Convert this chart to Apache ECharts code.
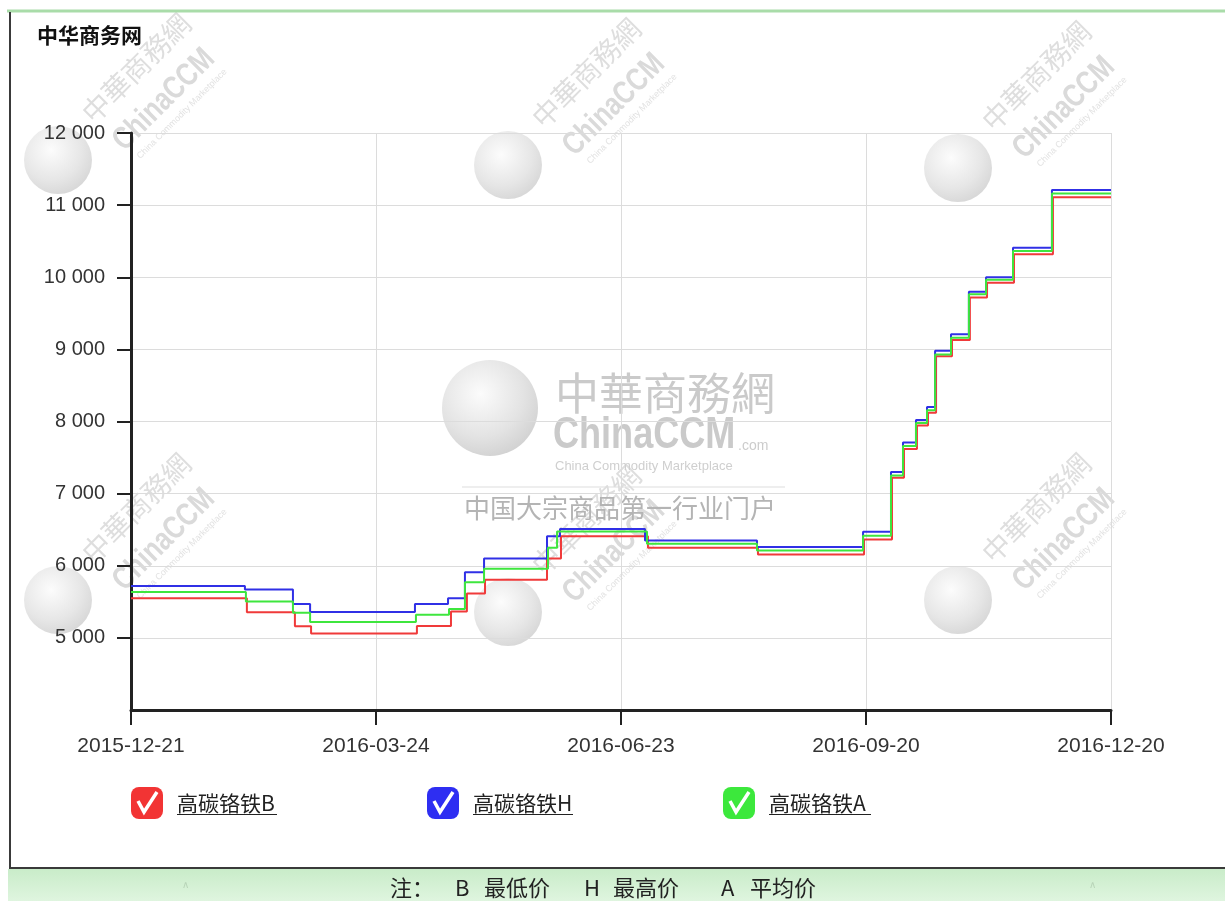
<!DOCTYPE html>
<html><head><meta charset="utf-8">
<script src="https://cdn.jsdelivr.net/npm/echarts@6/dist/echarts.min.js"></script>
<style>html,body{margin:0;padding:0;background:#fff}#c{width:1225px;height:901px}</style>
</head><body><div id="c"></div>
<script>
// ---- data (x in axis units: 0..400, each 100 = one labelled date) ----
const xLabels = ['2015-12-21', '2016-03-24', '2016-06-23', '2016-09-20', '2016-12-20'];
const yTicks = [4000, 5000, 6000, 7000, 8000, 9000, 10000, 11000, 12000];
const seriesNames = ['高碳铬铁B', '高碳铬铁H', '高碳铬铁A'];
const notePieces = ['注：', 'B', '最低价', 'H', '最高价', 'A', '平均价'];

const dataB = [[0,5550],[47.3,5355],[66.9,5160],[73.5,5060],[116.7,5165],[130.6,5365],[137.1,5615],[144.5,5805],
  [169.8,6100],[175.5,6410],[211.0,6250],[255.9,6155],[299.2,6365],[310.6,7220],[315.5,7620],[320.8,7945],
  [325.3,8120],[328.6,8905],[335.1,9130],[342.4,9720],[349.4,9925],[360.4,10320],[376.3,11110],[400,11110]];
const dataH = [[0,5720],[46.5,5670],[66.1,5470],[73.1,5360],[115.9,5470],[129.4,5550],[136.3,5910],[144.1,6100],
  [169.8,6410],[175.1,6510],[209.8,6350],[255.5,6260],[298.8,6470],[310.2,7300],[315.1,7710],[320.4,8020],
  [324.9,8200],[328.2,8980],[334.7,9210],[342.0,9800],[349.0,10000],[360.0,10410],[375.9,11210],[400,11210]];
const dataA = [[0,5635],[46.9,5505],[66.1,5350],[73.1,5220],[116.3,5320],[129.8,5400],[136.3,5770],[144.1,5960],
  [170.2,6250],[173.9,6475],[210.6,6305],[255.5,6210],[298.8,6415],[310.2,7250],[315.1,7660],[320.4,7980],
  [324.9,8155],[328.2,8930],[334.7,9160],[342.0,9765],[349.0,9965],[360.0,10365],[375.9,11160],[400,11160]];

const lineColors = ['#f03a3a', '#3030e6', '#3ee63e'];
const boxColors = ['#f23434', '#2e2ef2', '#3ce83c'];

const chart = echarts.init(document.getElementById('c'));
const FONT = '"Liberation Sans", Arial, sans-serif';
const CJK = '"Noto Sans CJK SC", sans-serif';

function globe(cx, cy, r, op) {
  return { type: 'circle', z: -10, shape: { cx: cx, cy: cy, r: r }, silent: true,
    style: { fill: { type: 'radial', x: 0.4, y: 0.35, r: 0.75,
      colorStops: [{ offset: 0, color: '#fbfbfb' }, { offset: 0.6, color: '#dedede' }, { offset: 1, color: '#c4c4c4' }] },
      opacity: op } };
}
function smallMark(gx, gy) {
  return [
    globe(gx, gy, 34, 0.75),
    { type: 'text', z: -10, silent: true, x: gx + 78, y: gy - 92, rotation: Math.PI / 4,
      style: { text: '中華商務網', fill: '#dedede', font: '28px ' + CJK, align: 'center', verticalAlign: 'middle' } },
    { type: 'text', z: -10, silent: true, x: gx + 106, y: gy - 60, rotation: Math.PI / 4, scaleX: 0.8,
      style: { text: 'ChinaCCM', fill: '#dadada', font: 'bold 32px ' + FONT, align: 'center', verticalAlign: 'middle' } },
    { type: 'text', z: -10, silent: true, x: gx + 124, y: gy - 46, rotation: Math.PI / 4,
      style: { text: 'China Commodity Marketplace', fill: '#e2e2e2', font: '9px ' + FONT, align: 'center', verticalAlign: 'middle' } }
  ];
}

const graphics = [];
// frame
graphics.push({ type: 'rect', z: -20, silent: true, shape: { x: 8, y: 869, width: 1220, height: 32 },
  style: { fill: { type: 'linear', x: 0, y: 0, x2: 0, y2: 1, colorStops: [{ offset: 0, color: '#c9ecc9' }, { offset: 1, color: '#dff5df' }] } } });
graphics.push({ type: 'line', z: -5, silent: true, shape: { x1: 7, y1: 11, x2: 1225, y2: 11 }, style: { stroke: '#a9dca9', lineWidth: 3 } });
graphics.push({ type: 'line', z: -5, silent: true, shape: { x1: 10, y1: 12, x2: 10, y2: 869 }, style: { stroke: '#3a3a3a', lineWidth: 2 } });
graphics.push({ type: 'line', z: -5, silent: true, shape: { x1: 9, y1: 868, x2: 1225, y2: 868 }, style: { stroke: '#3a3a3a', lineWidth: 2 } });
graphics.push({ type: 'text', silent: true, x: 185, y: 885, style: { text: '∧', fill: '#b8d4b8', font: '10px ' + FONT, align: 'center', verticalAlign: 'middle' } });
graphics.push({ type: 'text', silent: true, x: 1092, y: 885, style: { text: '∧', fill: '#b8d4b8', font: '10px ' + FONT, align: 'center', verticalAlign: 'middle' } });
const noteX = [390, 455, 484, 584, 613, 721, 750];
notePieces.forEach((t, i) => graphics.push({ type: 'text', silent: true, x: noteX[i], y: 888,
  style: { text: t, fill: '#222', font: '22px ' + CJK, align: 'left', verticalAlign: 'middle' } }));

// small watermarks
[[58, 160], [508, 165], [958, 168], [58, 600], [508, 612], [958, 600]].forEach(p => graphics.push(...smallMark(p[0], p[1])));

// central watermark
graphics.push(globe(490, 408, 48, 0.85));
graphics.push({ type: 'text', z: -10, silent: true, x: 555, y: 393, style: { text: '中華商務網', fill: '#cacaca', font: '44px ' + CJK, align: 'left', verticalAlign: 'middle' } });
graphics.push({ type: 'text', z: -10, silent: true, x: 553, y: 436, scaleX: 0.82,
  style: { text: 'ChinaCCM', fill: '#cacaca', font: 'bold 44px ' + FONT, align: 'left', verticalAlign: 'middle' } });
graphics.push({ type: 'text', z: -10, silent: true, x: 738, y: 446, style: { text: '.com', fill: '#cccccc', font: '14px ' + FONT, align: 'left', verticalAlign: 'middle' } });
graphics.push({ type: 'text', z: -10, silent: true, x: 555, y: 466, style: { text: 'China Commodity Marketplace', fill: '#cfcfcf', font: '13px ' + FONT, align: 'left', verticalAlign: 'middle' } });
graphics.push({ type: 'line', z: -10, silent: true, shape: { x1: 462, y1: 487, x2: 785, y2: 487 }, style: { stroke: '#dddddd', lineWidth: 1 } });
graphics.push({ type: 'text', z: -10, silent: true, x: 620, y: 508, style: { text: '中国大宗商品第一行业门户', fill: '#b4b4b4', font: '26px ' + CJK, align: 'center', verticalAlign: 'middle' } });

// legend check marks and underlines
const legX = [131, 427, 723];
legX.forEach((sx, i) => {
  graphics.push({ type: 'polyline', z: 20, silent: true, shape: { points: [[sx + 7, 801], [sx + 13, 812], [sx + 26, 792]] },
    style: { stroke: '#ffffff', lineWidth: 3.5, fill: null } });
  graphics.push({ type: 'line', z: 20, silent: true, shape: { x1: sx + 46, y1: 814.5, x2: sx + 46 + (i === 2 ? 102 : 100), y2: 814.5 }, style: { stroke: '#222', lineWidth: 1 } });
});

const option = {
  backgroundColor: '#ffffff',
  animation: false,
  title: { text: '中华商务网', left: 32, top: 20, textStyle: { fontFamily: CJK, fontSize: 21, fontWeight: 'bold', color: '#111' } },
  grid: { left: 131, top: 133, width: 980, height: 577, containLabel: false },
  legend: seriesNames.map((n, i) => ({
    left: legX[i], top: 787, padding: 0, itemWidth: 32, itemHeight: 32, icon: 'roundRect', selectedMode: false,
    data: [{ name: n, itemStyle: { color: boxColors[i] } }],
    textStyle: { fontFamily: CJK, fontSize: 21, color: '#222', padding: [0, 0, 0, 9] }
  })),
  xAxis: {
    type: 'value', min: 0, max: 400, interval: 100,
    axisLine: { show: true, lineStyle: { color: '#222', width: 3 } },
    axisTick: { show: true, length: 15, lineStyle: { color: '#222', width: 2 } },
    axisLabel: { margin: 26, fontSize: 21, fontFamily: FONT, color: '#333', formatter: v => xLabels[Math.round(v / 100)] },
    splitLine: { show: true, lineStyle: { color: '#dcdcdc', width: 1 } }
  },
  yAxis: {
    type: 'value', min: yTicks[0], max: yTicks[yTicks.length - 1], interval: 1000,
    axisLine: { show: true, lineStyle: { color: '#222', width: 3 } },
    axisTick: { show: true, length: 14, customValues: yTicks.slice(1), lineStyle: { color: '#222', width: 2 } },
    axisLabel: { margin: 26, fontSize: 20, fontFamily: FONT, color: '#333', customValues: yTicks.slice(1),
      formatter: v => String(v).replace(/\B(?=(\d{3})+$)/g, ' ') },
    splitLine: { show: true, lineStyle: { color: '#dcdcdc', width: 1 } }
  },
  series: [dataB, dataH, dataA].map((d, i) => ({
    name: seriesNames[i], type: 'line', step: 'end', data: d, showSymbol: false, symbol: 'none',
    lineStyle: { color: lineColors[i], width: 2 }, itemStyle: { color: lineColors[i] }, z: 5 + i
  })),
  graphic: graphics
};
chart.setOption(option);
</script>
</body></html>
